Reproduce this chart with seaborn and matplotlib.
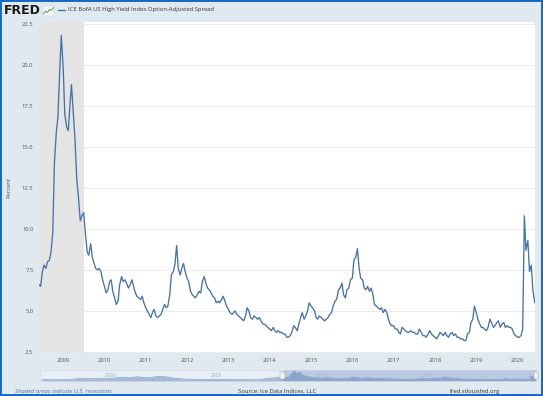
import matplotlib
matplotlib.use("Agg")
import matplotlib.dates as mdates
import matplotlib.pyplot as plt
import matplotlib.transforms as mtransforms
import pandas as pd
import seaborn as sns
from matplotlib.lines import Line2D
from matplotlib.patches import Rectangle

W, H = 543, 396

# semi-monthly readings (1st and 15th of each month), percent
spread_2008 = [6.6, 6.5, 7.4, 7.8, 7.6, 8.0, 8.1, 8.6, 9.8, 14.0, 15.9, 16.8, 19.6, 21.8]
spread_2009 = [19.8, 17.0, 16.2, 16.0, 17.5, 18.8, 17.0, 15.5, 13.0, 12.0, 10.5, 10.8,
               11.0, 9.8, 8.6, 8.4, 9.1, 8.3, 7.9, 7.6, 7.5, 7.6, 7.4, 6.9]
spread_2010 = [6.5, 6.1, 6.3, 6.8, 6.9, 6.2, 5.8, 5.4, 5.6, 6.6, 7.1, 6.8,
               6.9, 6.7, 6.4, 6.6, 6.9, 6.5, 6.1, 5.9, 5.8, 5.7, 5.9, 5.5]
spread_2011 = [5.2, 5.0, 4.8, 4.6, 4.9, 5.1, 4.7, 4.6, 4.7, 4.8, 5.1, 5.4,
               5.2, 5.3, 6.0, 7.2, 7.4, 7.8, 9.0, 7.6, 7.2, 7.6, 7.9, 7.4]
spread_2012 = [7.0, 6.8, 6.2, 6.0, 5.9, 5.8, 6.0, 6.2, 6.1, 6.8, 7.1, 6.7,
               6.4, 6.3, 6.1, 5.9, 5.8, 5.5, 5.6, 5.5, 5.7, 5.9, 5.6, 5.3]
spread_2013 = [5.1, 4.9, 4.8, 4.9, 5.0, 4.8, 4.7, 4.6, 4.5, 4.4, 4.7, 5.2,
               5.0, 4.6, 4.5, 4.7, 4.6, 4.5, 4.6, 4.4, 4.2, 4.2, 4.1, 4.0]
spread_2014 = [3.9, 3.8, 4.0, 3.8, 3.7, 3.8, 3.7, 3.7, 3.6, 3.6, 3.4, 3.4,
               3.5, 3.7, 4.1, 4.0, 3.8, 4.2, 4.6, 4.9, 4.5, 4.7, 5.0, 5.5]
spread_2015 = [5.3, 5.2, 5.0, 4.6, 4.5, 4.7, 4.6, 4.5, 4.4, 4.5, 4.6, 4.8,
               4.9, 5.3, 5.6, 5.7, 6.3, 6.4, 6.7, 6.0, 5.8, 6.3, 6.4, 6.9]
spread_2016 = [7.0, 8.1, 8.3, 8.8, 7.6, 7.0, 6.9, 6.4, 6.3, 6.5, 6.2, 6.4,
               6.0, 5.4, 5.3, 5.2, 5.1, 5.2, 4.9, 5.1, 4.9, 4.5, 4.2, 4.1]
spread_2017 = [4.1, 3.9, 3.9, 3.7, 3.6, 4.0, 3.9, 3.8, 3.7, 3.7, 3.8, 3.7,
               3.7, 3.6, 3.6, 3.9, 3.7, 3.5, 3.5, 3.4, 3.6, 3.8, 3.6, 3.5]
spread_2018 = [3.4, 3.3, 3.5, 3.7, 3.6, 3.5, 3.7, 3.5, 3.4, 3.6, 3.7, 3.5,
               3.6, 3.4, 3.4, 3.3, 3.3, 3.2, 3.2, 3.6, 3.7, 4.3, 4.5, 5.3]
spread_2019 = [4.9, 4.5, 4.2, 4.0, 4.0, 3.9, 3.8, 4.0, 4.5, 4.3, 4.0, 4.1,
               4.3, 4.4, 4.0, 4.2, 4.3, 4.0, 4.1, 4.0, 4.0, 3.9, 3.6, 3.5]
spread_2020 = [3.4, 3.4, 3.5, 3.9, 10.8, 8.7, 9.3, 7.4, 7.8, 6.3, 5.5]

spread_values = (spread_2008 + spread_2009 + spread_2010 + spread_2011 + spread_2012
                 + spread_2013 + spread_2014 + spread_2015 + spread_2016 + spread_2017
                 + spread_2018 + spread_2019 + spread_2020)
spread_dates = pd.date_range("2008-06-01", "2020-06-01", freq="SMS")

# coarse quarterly history before the shown window, for the navigator strip
history_values = [3.1, 2.9, 2.8, 3.0, 2.9, 3.0, 3.8, 5.8, 5.3, 4.8, 5.0, 5.3,
                  5.2, 5.8, 6.5, 8.0, 7.6, 7.2, 8.8, 8.0, 7.0, 7.8, 10.0, 9.5,
                  8.0, 6.0, 5.0, 4.0, 3.7, 3.6, 3.6, 3.2, 3.0, 3.7, 3.4, 3.7,
                  3.3, 3.1, 3.2, 2.8, 2.6, 2.5, 4.0, 5.8, 6.5, 7.5]
history_dates = pd.date_range("1997-01-01", "2008-04-01", freq="QS")

year_ticks = [2009, 2010, 2011, 2012, 2013, 2014, 2015, 2016, 2017, 2018, 2019, 2020]
y_ticks = [2.5, 5.0, 7.5, 10.0, 12.5, 15.0, 17.5, 20.0, 22.5]
nav_years = [2000, 2005, 2010, 2015]
recession = ("2007-12-01", "2009-06-30")
logo_icon = [1.0, 2.2, 1.6, 3.0, 2.6, 4.0]

title = "ICE BofA US High Yield Index Option-Adjusted Spread"

df = pd.DataFrame({"date": spread_dates, "spread": spread_values})
nav_df = pd.concat([pd.DataFrame({"date": history_dates, "spread": history_values}), df],
                   ignore_index=True)

sns.set_theme(style="white")
plt.rcParams["font.family"] = ["Open Sans", "DejaVu Sans"]

BG = "#e1e9f0"
LINE = "#4572a7"
TXT = "#555555"
FS = 4.2
start, end = pd.Timestamp("2008-06-01"), pd.Timestamp("2020-06-03")


def fx(px):
    return px / W


def fy(py):
    return 1 - py / H


fig = plt.figure(figsize=(W / 100, H / 100), dpi=100, facecolor=BG)

# main chart
ax = fig.add_axes([fx(39), fy(353), fx(535) - fx(39), fy(22) - fy(353)])
ax.set_facecolor("white")
ax.axvspan(pd.Timestamp(recession[0]), pd.Timestamp(recession[1]), color="#e4e4e4", lw=0, zorder=1)
sns.lineplot(data=df, x="date", y="spread", ax=ax, color=LINE, lw=0.95, zorder=3)
ax.set_xlim(start, end)
ax.set_ylim(2.44, 22.62)
ax.set_yticks(y_ticks)
ax.set_yticklabels([f"{v:.1f}" for v in y_ticks])
ax.set_xticks([pd.Timestamp(f"{y}-01-01") for y in year_ticks])
ax.set_xticklabels([str(y) for y in year_ticks])
ax.grid(axis="y", color="#e8e8e8", lw=0.6)
ax.grid(axis="x", visible=False)
ax.set_axisbelow(True)
for s in ax.spines.values():
    s.set_visible(False)
ax.tick_params(axis="both", length=0, labelsize=FS, labelcolor=TXT)
ax.tick_params(axis="y", pad=4.0)
ax.tick_params(axis="x", pad=3.5)
ax.set_xlabel("")
ax.set_ylabel("Percent", fontsize=FS, color=TXT)
ax.yaxis.set_label_coords(-0.056, 0.5)

# navigator strip
nav = fig.add_axes([fx(40), fy(381), fx(536) - fx(40), fy(370) - fy(381)])
nav.set_facecolor("#e7eef5")
nav.fill_between(nav_df["date"], nav_df["spread"], color="#a3b9d8", lw=0)
sns.lineplot(data=nav_df, x="date", y="spread", ax=nav, color="#7495c4", lw=0.4)
nav.axvspan(start, end, color="#5577bb", alpha=0.3, lw=0)
nav.set_xlim(pd.Timestamp("1996-12-01"), end)
nav.set_ylim(0, 23)
nav.set_xticks([])
nav.set_yticks([])
nav.set_xlabel("")
nav.set_ylabel("")
for s in nav.spines.values():
    s.set_color("#cdd6e0")
    s.set_linewidth(0.4)
for yr in nav_years:
    nav.text(pd.Timestamp(f"{yr}-01-01"), 0.5, str(yr), transform=nav.get_xaxis_transform(),
             fontsize=3.6, color="#a9b4c0", ha="left", va="center")
trans = mtransforms.blended_transform_factory(nav.transData, nav.transAxes)
for edge in (start, end):
    x0 = mdates.date2num(edge) - 40
    nav.add_patch(Rectangle((x0, 0.15), 80, 0.7, transform=trans, facecolor="#f2f2f2",
                            edgecolor="#999999", lw=0.3, clip_on=False, zorder=5))

# header
fig.text(fx(4), fy(11), "FRED", fontsize=9, fontweight="heavy", family="DejaVu Sans",
         color="#1a1a1a", va="center", ha="left")
icon = fig.add_axes([fx(43), fy(16), fx(54) - fx(43), fy(6) - fy(16)])
icon.set_facecolor("#f3f5f7")
icon.plot(range(len(logo_icon)), logo_icon, color="#5aa05a", lw=0.7)
icon.set_xticks([])
icon.set_yticks([])
icon.set_ylim(0, 4.6)
for s in icon.spines.values():
    s.set_color("#c9c9c9")
    s.set_linewidth(0.3)
fig.add_artist(Line2D([fx(58), fx(65)], [fy(10), fy(10)], color=LINE, lw=1.0))
fig.text(fx(68), fy(10), title, fontsize=FS, color="#333333", va="center", ha="left")

# footer
fig.text(fx(15), fy(391.5), "Shaded areas indicate U.S. recessions", fontsize=FS,
         style="italic", color="#4f74a3", va="center", ha="left")
fig.text(fx(277), fy(391.5), "Source: Ice Data Indices, LLC", fontsize=FS,
         color="#333333", va="center", ha="center")
fig.text(fx(500), fy(391.5), "fred.stlouisfed.org", fontsize=FS,
         color="#333333", va="center", ha="right")

# blue frame
fig.add_artist(Rectangle((0, 0), 1, 1, transform=fig.transFigure, fill=False,
                         edgecolor="#1467c2", lw=2.8))

fig.savefig("out.png", dpi=100, facecolor=BG)
